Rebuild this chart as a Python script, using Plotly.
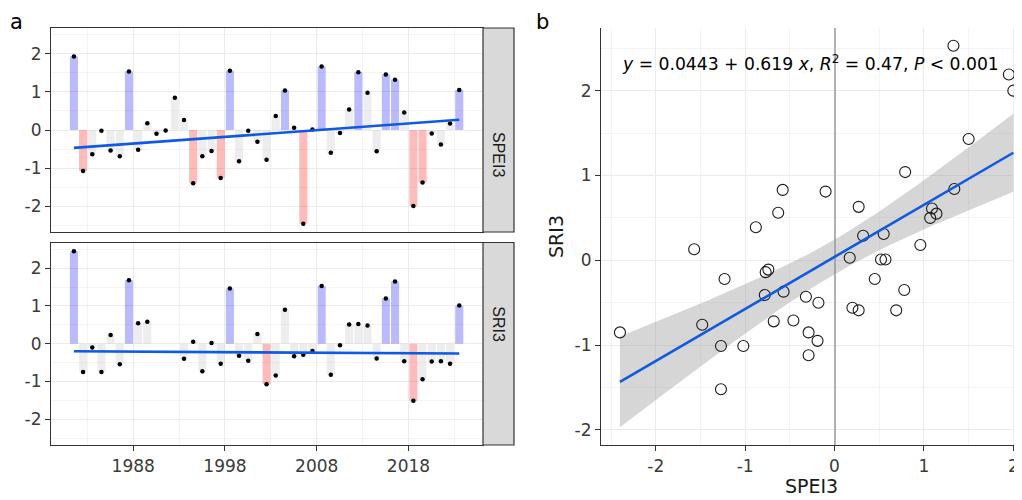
import numpy as np
import plotly.graph_objects as go

# ---------------- data ----------------
years = list(range(1981, 2024))
spei3 = [1.93, -1.08, -0.64, -0.02, -0.54, -0.69, 1.54, -0.52, 0.18, -0.10, -0.01, 0.85,
         0.26, -1.40, -0.69, -0.55, -1.26, 1.56, -0.82, -0.02, -0.31, -0.78, 0.37, 1.04,
         0.06, -2.46, 0.01, 1.67, -0.60, -0.08, 0.54, 1.52, 0.98, -0.56, 1.46, 1.32,
         0.46, -2.00, -1.38, -0.09, -0.38, 0.17, 1.05]
sri3 = [2.45, -0.75, -0.10, -0.75, 0.23, -0.54, 1.68, 0.54, 0.58, None, None, None,
        -0.40, 0.05, -0.73, 0.02, -0.53, 1.46, -0.32, -0.45, 0.26, -1.07, -0.84, 0.90,
        -0.33, -0.29, -0.19, 1.53, -0.82, -0.04, 0.51, 0.52, 0.48, -0.39, 1.20, 1.65,
        -0.46, -1.51, -0.94, -0.47, -0.46, -0.53, 1.01]

# trend-line values read at the first and last year
spei3_trend = [-0.47, 0.27]
sri3_trend = [-0.20, -0.26]

scatter_spei3 = [-2.40, -1.57, -0.88, -0.58, -0.63, -1.23, -0.77, -0.74, -0.78, -0.57,
                 -1.48, -0.68, -0.46, -1.27, -1.02, -1.27, 1.33, 1.95, 2.00, 1.50,
                 0.79, -0.10, 0.27, 1.34, 1.09, 1.14, 1.07, 0.32, 0.55, 0.96,
                 0.17, 0.52, 0.57, 0.45, 0.78, -0.32, -0.18, 0.20, 0.27, 0.69,
                 -0.29, -0.19, -0.29]
scatter_sri3 = [-0.85, 0.13, 0.39, 0.83, 0.56, -0.22, -0.14, -0.11, -0.41, -0.37,
                -0.76, -0.72, -0.71, -1.01, -1.01, -1.52, 2.53, 2.19, 2.00, 1.43,
                1.04, 0.81, 0.63, 0.84, 0.61, 0.55, 0.50, 0.29, 0.31, 0.18,
                0.03, 0.01, 0.01, -0.22, -0.35, -0.43, -0.50, -0.56, -0.59, -0.59,
                -0.85, -0.95, -1.12]

x_tick_years = [1988, 1998, 2008, 2018]
x_minor_years = [1983, 1993, 2003, 2013, 2023]
y_ticks = [-2, -1, 0, 1, 2]
eq_text = "<i>y</i> = 0.0443 + 0.619 <i>x</i>, <i>R</i><sup>2</sup> = 0.47, <i>P</i> < 0.001"

# ---------------- styles ----------------
# the page body has an 8px margin, so the figure is sized/placed to compensate
OFF = 8
W, H = 1022 - OFF, 500 - OFF
FONT = "DejaVu Sans, Liberation Sans, Arial, sans-serif"
FONT_V = "Liberation Sans, Arial, sans-serif"
BLUE = "rgba(0,0,255,0.27)"
RED = "rgba(255,0,0,0.27)"
GREY = "rgba(200,200,200,0.33)"
LINE = "#0E5AE4"
GRID = "#EBEBEB"
GRID_MINOR = "#F4F4F4"
BORDER = "#333333"
TICKFONT = dict(family=FONT, size=17, color="#3A3A3A")


def px_x(p):
    return (p - OFF) / W


def px_y(p):
    return 1 - (p - OFF) / H


def bar_colors(vals):
    out = []
    for v in vals:
        if v is None:
            out.append(GREY)
        elif v > 1:
            out.append(BLUE)
        elif v < -1:
            out.append(RED)
        else:
            out.append(GREY)
    return out


dates = [f"{y}-07-15" for y in years]
bar_w = 0.88 * 365.25 * 24 * 3600 * 1000

fig = go.Figure()

panels = [("x", "y", spei3, spei3_trend), ("x2", "y2", sri3, sri3_trend)]
for xa, ya, vals, trend in panels:
    fig.add_trace(go.Bar(x=dates, y=vals, width=bar_w, marker=dict(color=bar_colors(vals), line_width=0),
                         xaxis=xa, yaxis=ya, showlegend=False, hoverinfo="skip"))
    fig.add_trace(go.Scatter(x=dates, y=vals, mode="markers", marker=dict(color="black", size=4.5),
                             xaxis=xa, yaxis=ya, showlegend=False))
    fig.add_trace(go.Scatter(x=[dates[0], dates[-1]], y=trend,
                             mode="lines", line=dict(color=LINE, width=2.6),
                             xaxis=xa, yaxis=ya, showlegend=False))

# scatter regression with 95% CI
sx = np.array(scatter_spei3)
sy = np.array(scatter_sri3)
n = len(sx)
b1, b0 = np.polyfit(sx, sy, 1)
resid = sy - (b0 + b1 * sx)
s = np.sqrt(np.sum(resid ** 2) / (n - 2))
sxx = np.sum((sx - sx.mean()) ** 2)
t = 2.0195
xg = np.linspace(sx.min(), sx.max(), 80)
yg = b0 + b1 * xg
se = s * np.sqrt(1 / n + (xg - sx.mean()) ** 2 / sxx)
fig.add_trace(go.Scatter(x=np.concatenate([xg, xg[::-1]]), y=np.concatenate([yg + t * se, (yg - t * se)[::-1]]),
                         fill="toself", fillcolor="rgba(153,153,153,0.4)", line=dict(width=0),
                         mode="lines", xaxis="x3", yaxis="y3", showlegend=False, hoverinfo="skip"))
fig.add_trace(go.Scatter(x=sx, y=sy, mode="markers",
                         marker=dict(symbol="circle-open", size=11, color="#1A1A1A", line=dict(width=1.1)),
                         xaxis="x3", yaxis="y3", showlegend=False))
fig.add_trace(go.Scatter(x=xg, y=yg, mode="lines", line=dict(color=LINE, width=2.6),
                         xaxis="x3", yaxis="y3", showlegend=False))

# ---------------- layout ----------------
left_dom = [px_x(51), px_x(483)]
top_dom = [px_y(232), px_y(28)]
bot_dom = [px_y(445), px_y(242.5)]
date_range = ["1979-01-15", "2026-02-15"]
yr_range = [-2.68, 2.68]

common_x = dict(type="date", range=date_range, showgrid=True, gridcolor=GRID, gridwidth=1.4,
                tickvals=[f"{y}-01-01" for y in x_tick_years], ticktext=[str(y) for y in x_tick_years],
                minor=dict(tickvals=[f"{y}-01-01" for y in x_minor_years], showgrid=True,
                           gridcolor=GRID_MINOR, gridwidth=1),
                showline=True, linecolor=BORDER, linewidth=1.2, mirror=True, zeroline=False,
                tickfont=TICKFONT, fixedrange=True, automargin=False)
common_y = dict(range=yr_range, tickvals=y_ticks, ticktext=[str(v) for v in y_ticks],
                showgrid=True, gridcolor=GRID, gridwidth=1.4,
                minor=dict(tickvals=[-2.5, -1.5, -0.5, 0.5, 1.5, 2.5], showgrid=True,
                           gridcolor=GRID_MINOR, gridwidth=1),
                showline=True, linecolor=BORDER, linewidth=1.2, mirror=True, zeroline=False,
                ticks="outside", ticklen=5, tickcolor=BORDER, tickfont=TICKFONT, fixedrange=True,
                automargin=False)

fig.update_layout(
    width=W, height=H, margin=dict(l=0, r=0, t=0, b=0, autoexpand=False),
    paper_bgcolor="white", plot_bgcolor="white",
    font=dict(family=FONT),
    showlegend=False,
    xaxis=dict(common_x, domain=left_dom, anchor="y", showticklabels=False, ticks=""),
    yaxis=dict(common_y, domain=top_dom, anchor="x"),
    xaxis2=dict(common_x, domain=left_dom, anchor="y2", ticks="outside", ticklen=5, tickcolor=BORDER),
    yaxis2=dict(common_y, domain=bot_dom, anchor="x2"),
    xaxis3=dict(domain=[px_x(601), 1.0], anchor="y3", range=[-2.612, 2.097],
                tickvals=[-2, -1, 0, 1, 2], ticktext=["-2", "-1", "0", "1", "2"],
                showgrid=True, gridcolor=GRID, gridwidth=1.4,
                minor=dict(tickvals=[-2.5, -1.5, -0.5, 0.5, 1.5], showgrid=True, gridcolor=GRID_MINOR, gridwidth=1),
                showline=True, linecolor=BORDER, linewidth=1.2, zeroline=True, zerolinecolor="#B0B0B0",
                zerolinewidth=1.6, ticks="outside", ticklen=5, tickcolor=BORDER, tickfont=TICKFONT,
                title=dict(text="SPEI3", font=dict(family=FONT, size=19, color="#1A1A1A"), standoff=4),
                fixedrange=True, automargin=False),
    yaxis3=dict(domain=[px_y(445), px_y(28)], anchor="x3", range=[-2.178, 2.739],
                tickvals=[-2, -1, 0, 1, 2], ticktext=["-2", "-1", "0", "1", "2"],
                showgrid=True, gridcolor=GRID, gridwidth=1.4,
                minor=dict(tickvals=[-1.5, -0.5, 0.5, 1.5, 2.5], showgrid=True, gridcolor=GRID_MINOR, gridwidth=1),
                showline=True, linecolor=BORDER, linewidth=1.2, zeroline=False,
                ticks="outside", ticklen=5, tickcolor=BORDER, tickfont=TICKFONT,
                title=dict(text="SRI3", font=dict(family=FONT, size=19, color="#1A1A1A"), standoff=5),
                fixedrange=True, automargin=False),
)

# facet strips
strips = [("SPEI3", 28, 232), ("SRI3", 242.5, 445)]
for label, y0, y1 in strips:
    fig.add_shape(type="rect", xref="paper", yref="paper", x0=px_x(483), x1=px_x(514),
                  y0=px_y(y1), y1=px_y(y0), fillcolor="#D9D9D9", line=dict(color=BORDER, width=1.2))
    fig.add_annotation(text=label, xref="paper", yref="paper", x=px_x(498.5), y=px_y((y0 + y1) / 2),
                       textangle=90, showarrow=False, font=dict(family=FONT_V, size=16, color="#1A1A1A"))

fig.add_annotation(text="a", xref="paper", yref="paper", x=px_x(16), y=px_y(21.5),
                   xanchor="center", yanchor="middle", showarrow=False, borderpad=0,
                   font=dict(family=FONT, size=21, color="black"))
fig.add_annotation(text="b", xref="paper", yref="paper", x=px_x(542), y=px_y(21.5),
                   xanchor="center", yanchor="middle", showarrow=False, borderpad=0,
                   font=dict(family=FONT, size=21, color="black"))
fig.add_annotation(text=eq_text, xref="x3", yref="y3", x=-0.27, y=2.33, showarrow=False,
                   font=dict(family=FONT, size=17.2, color="black"))

fig.write_html("out.html")
